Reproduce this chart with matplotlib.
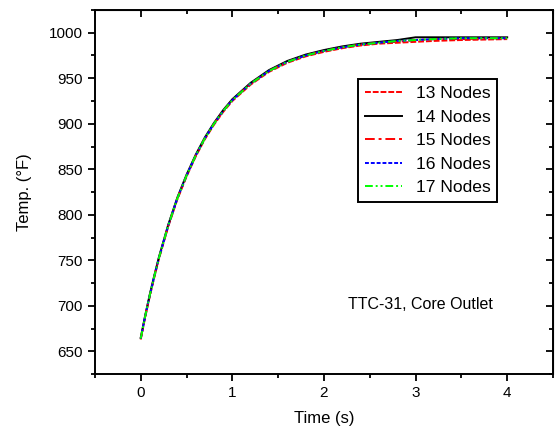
import matplotlib
matplotlib.use("Agg")
import matplotlib.pyplot as plt
from matplotlib.ticker import MultipleLocator

plt.rcParams['font.family'] = ['Liberation Sans', 'DejaVu Sans']

# time (s)
tempo = [0, 0.05, 0.1, 0.15, 0.2, 0.3, 0.4, 0.5, 0.6, 0.7, 0.8, 0.9, 1.0,
         1.2, 1.4, 1.6, 1.8, 2.0, 2.2, 2.4, 2.6, 2.8, 3.0, 3.2, 3.5, 4.0]

# temperatura (F) para cada malha
nos_13 = [663, 688, 711, 732, 752, 787, 817, 842, 864, 883, 899, 913, 925,
          943, 957, 967, 974, 979, 983, 986, 988, 989, 990, 991, 992, 993]
nos_14 = [665, 690, 713, 734, 754, 789, 819, 844, 866, 885, 901, 915, 927,
          945, 959, 969, 976, 981, 985, 988, 990, 992, 995, 995, 995, 995]
nos_15 = [664, 689, 712, 733, 753, 788, 818, 843, 865, 884, 900, 914, 926,
          944, 958, 968, 975, 980, 984, 987, 989, 990, 992, 993, 993, 994]
nos_16 = [664, 689, 712, 733, 753, 788, 818, 843, 865, 884, 900, 914, 926,
          944, 958, 968, 975, 980, 984, 987, 989, 991, 992, 993, 994, 994]
nos_17 = [664, 689, 712, 733, 753, 788, 818, 843, 865, 884, 900, 914, 926,
          944, 958, 968, 975, 980, 984, 987, 989, 991, 992, 993, 994, 994]

fig = plt.figure(figsize=(5.55, 4.34), dpi=100)
ax = fig.add_axes([0.171, 0.138, 0.8254, 0.839])

ax.plot(tempo, nos_13, color='red', lw=1.4, ls=(0, (3, 1)), label='13 Nodes')
ax.plot(tempo, nos_14, color='black', lw=1.4, ls='-', label='14 Nodes')
ax.plot(tempo, nos_15, color='red', lw=1.4, ls=(0, (5, 2, 1.5, 2)), label='15 Nodes')
ax.plot(tempo, nos_16, color='blue', lw=1.4, ls=(0, (2, 1)), label='16 Nodes')
ax.plot(tempo, nos_17, color='#00ff00', lw=1.4, ls=(0, (4, 1.5, 1, 1.5, 1, 1.5)), label='17 Nodes')

ax.set_xlim(-0.5, 4.5)
ax.set_ylim(625, 1025)
ax.xaxis.set_major_locator(MultipleLocator(1))
ax.xaxis.set_minor_locator(MultipleLocator(0.5))
ax.yaxis.set_major_locator(MultipleLocator(50))
ax.yaxis.set_minor_locator(MultipleLocator(25))

for s in ax.spines.values():
    s.set_linewidth(1.4)
ax.tick_params(which='major', direction='out', length=5, width=1.3, labelsize=11)
ax.tick_params(which='minor', direction='out', length=3, width=1.3)

# ticks para dentro no topo e na direita
topo = ax.secondary_xaxis('top')
topo.xaxis.set_major_locator(MultipleLocator(1))
topo.xaxis.set_minor_locator(MultipleLocator(0.5))
topo.tick_params(which='major', direction='in', length=5, width=1.3, labeltop=False)
topo.tick_params(which='minor', direction='in', length=3, width=1.3)
dir_ = ax.secondary_yaxis('right')
dir_.yaxis.set_major_locator(MultipleLocator(50))
dir_.yaxis.set_minor_locator(MultipleLocator(25))
dir_.tick_params(which='major', direction='in', length=5, width=1.3, labelright=False)
dir_.tick_params(which='minor', direction='in', length=3, width=1.3)

ax.set_xlabel("Time (s)", fontsize=12, labelpad=8)
ax.set_ylabel("Temp. (\u00b0F)", fontsize=12, labelpad=12)
ax.text(0.71, 0.19, "TTC-31, Core Outlet", transform=ax.transAxes,
        fontsize=11.5, ha='center', va='center')

leg = ax.legend(loc='upper left', bbox_to_anchor=(0.574, 0.81), borderaxespad=0,
                fontsize=12.6, handlelength=2.1, labelspacing=0.47, fancybox=False,
                edgecolor='black', framealpha=1, borderpad=0.4, handletextpad=0.8)
leg.get_frame().set_linewidth(1.4)

fig.savefig("out.png", dpi=100)
